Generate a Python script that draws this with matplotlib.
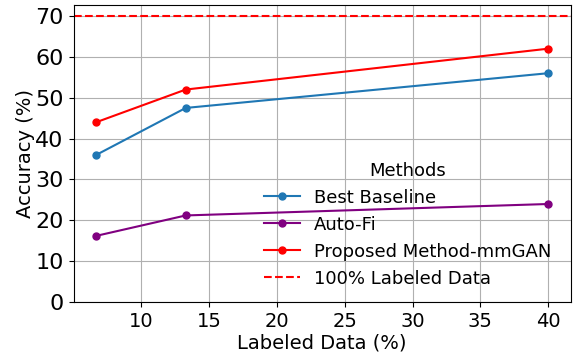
import matplotlib
matplotlib.use("Agg")
import matplotlib.pyplot as plt
from matplotlib.ticker import MultipleLocator

labeled_pct = [6.7, 13.3, 40.0]
best_baseline = [36.0, 47.5, 56.0]
auto_fi = [16.2, 21.2, 24.0]
proposed = [44.0, 52.0, 62.0]
full_labeled = 70.0

fig, ax = plt.subplots(figsize=(5.79, 3.55), dpi=100)

ax.plot(labeled_pct, best_baseline, marker='o', markersize=5, color='tab:blue', label="Best Baseline")
ax.plot(labeled_pct, auto_fi, marker='o', markersize=5, color='purple', label="Auto-Fi")
ax.plot(labeled_pct, proposed, marker='o', markersize=5, color='red', label="Proposed Method-mmGAN")
ax.axhline(full_labeled, color='red', linestyle='--', label="100% Labeled Data")

ax.set_ylim(bottom=0)
ax.yaxis.set_major_locator(MultipleLocator(10))
ax.xaxis.set_major_locator(MultipleLocator(5))
ax.set_xlabel("Labeled Data (%)", fontsize=14, labelpad=2)
ax.set_ylabel("Accuracy (%)", fontsize=14, labelpad=0)
ax.tick_params(labelsize=16)
ax.tick_params(axis='x', labelsize=14)
ax.grid(True)
ax.legend(title="Methods", fontsize=13, title_fontsize=13, frameon=False,
          loc='lower right', borderaxespad=0.4, bbox_to_anchor=(0.99, 0.0))

fig.subplots_adjust(left=0.127, right=0.986, top=0.986, bottom=0.149)
plt.savefig("out.png", dpi=100)
